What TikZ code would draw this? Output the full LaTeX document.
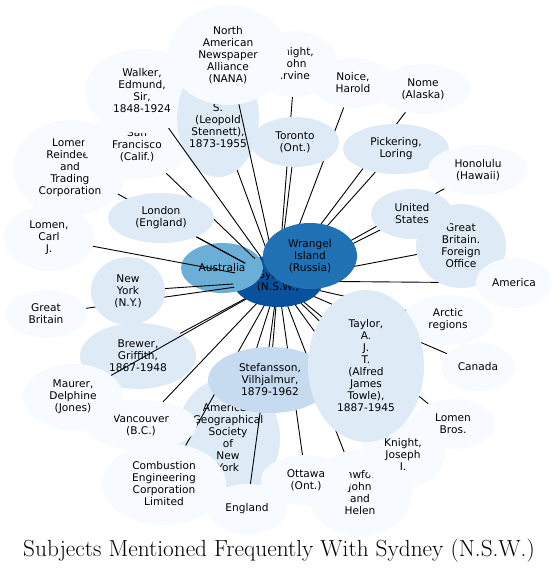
\documentclass[tikz,border=0pt]{standalone}
\usepackage{fontspec}
\newfontfamily\subjfont{DejaVu Sans}
\newfontfamily\titlefont{Latin Modern Roman}
\usetikzlibrary{shapes.geometric}
\definecolor{tone1}{HTML}{F7FBFF}
\definecolor{tone2}{HTML}{DEEBF7}
\definecolor{tone3}{HTML}{C6DBEF}
\definecolor{tone5}{HTML}{6BAED6}
\definecolor{tone7}{HTML}{2171B5}
\definecolor{tone8}{HTML}{08519C}
\pgfdeclarelayer{back}
\pgfdeclarelayer{edges}
\pgfsetlayers{back,edges,main}
\tikzset{
  subj/.style = {ellipse, inner sep=0, outer sep=0, align=center,
    font=\subjfont\fontsize{10.6}{12}\selectfont},
  sz/.style 2 args = {minimum width=2*#1pt, minimum height=2*#2pt},
  pale/.style = {subj, fill=tone1},
  light/.style = {subj, fill=tone2},
  mid/.style = {subj, fill=tone3},
  link/.style = {line width=0.9pt}
}

\begin{document}
\begin{tikzpicture}[x=1pt, y=-1pt]
  \useasboundingbox (0,0) rectangle (558,571);
  % nodes under the links
  \begin{pgfonlayer}{back}
    \node[subj, fill=tone8, sz={45}{26}] (syd) at (278,281) {Sydney\\(N.S.W.)};
    \node[subj, fill=tone5, sz={41}{25}] (aus) at (222,268) {Australia};
    \node[pale, sz={57}{48}] (lomr) at (70,168) {Lomen\\Reindeer\\and\\Trading\\Corporation};
    \node[pale, sz={53}{34}] (sanf) at (137,145) {San\\Francisco\\(Calif.)};
    \node[pale, sz={57}{42}] (walk) at (142,91) {Walker,\\Edmund,\\Sir,\\1848-1924};
    \node[light, sz={40}{59}] (amery) at (218,118) {\mbox{}\\\mbox{}\\S.\\(Leopold\\Stennett),\\1873-1955};
    \node[light, sz={52}{60}] (ags) at (228,438) {American\\Geographical\\Society\\of\\New\\York};
    \node[light, sz={58}{33}] (brew) at (138,356) {Brewer,\\Griffith,\\1867-1948};
  \end{pgfonlayer}
  % nodes over the links
  \node[pale, sz={43}{33}] (kjohn) at (295,64) {Knight,\\John\\Irvine};
  \node[pale, sz={60}{50}] (nana) at (228,55) {North\\American\\Newspaper\\Alliance\\(NANA)};
  \node[pale, sz={40}{25}] (noice) at (353,83) {Noice,\\Harold};
  \node[pale, sz={47}{25}] (nome) at (423,89) {Nome\\(Alaska)};
  \node[light, sz={44}{25}] (toro) at (295,142) {Toronto\\(Ont.)};
  \node[light, sz={53}{25}] (pick) at (396,149) {Pickering,\\Loring};
  \node[pale, sz={50}{25}] (hono) at (478,170) {Honolulu\\(Hawaii)};
  \node[light, sz={45}{42}] (gbfo) at (461,246) {Great\\Britain.\\Foreign\\Office};
  \node[light, sz={41}{25}] (us) at (412,214) {United\\States};
  \node[pale, sz={38}{25}] (amer) at (514,283) {America};
  \node[pale, sz={45}{25}] (arct) at (448,320) {Arctic\\regions};
  \node[pale, sz={37}{24}] (cana) at (478,367) {Canada};
  \node[pale, sz={42}{25}] (lomb) at (453,424) {Lomen\\Bros.};
  \node[pale, sz={52}{43}] (craw) at (360,493) {Crawford,\\John\\and\\Helen};
  \node[pale, sz={42}{34}] (kjos) at (403,454) {Knight,\\Joseph\\I.};
  \node[pale, sz={45}{25}] (otta) at (306,480) {Ottawa\\(Ont.)};
  \node[mid, sz={62}{33}] (stef) at (270,380) {Stefansson,\\Vilhjalmur,\\1879-1962};
  \node[light, sz={58}{76}] (tayl) at (366,366) {Taylor,\\A.\\J.\\T.\\(Alfred\\James\\Towle),\\1887-1945};
  \node[pale, sz={40}{25}] (engl) at (247,509) {England};
  \node[pale, sz={56}{25}] (vanc) at (141,425) {Vancouver\\(B.C.)};
  \node[pale, sz={62}{41}] (comb) at (164,484) {Combustion\\Engineering\\Corporation\\Limited};
  \node[pale, sz={50}{33}] (maur) at (73,397) {Maurer,\\Delphine\\(Jones)};
  \node[pale, sz={41}{24}] (gbr) at (46,314) {Great\\Britain};
  \node[light, sz={37}{34}] (nyk) at (128,291) {New\\York\\(N.Y.)};
  \node[light, sz={53}{25}] (lond) at (161,218) {London\\(England)};
  \node[pale, sz={45}{33}] (lomc) at (49,238) {Lomen,\\Carl\\J.};
  \node[subj, fill=tone7, sz={47}{33}] (wran) at (310,256) {Wrangel\\Island\\(Russia)};
  % links from Sydney
  \begin{pgfonlayer}{edges}
    \foreach \n in {lomr,sanf,walk,kjohn,nana,amery,noice,nome,toro,pick,hono,us,gbfo,amer,
      arct,cana,tayl,lomb,kjos,craw,otta,engl,stef,ags,comb,vanc,maur,brew,gbr,nyk,lond,lomc}
      \draw[link] (syd) -- (\n);
  \end{pgfonlayer}
  \node[anchor=base, inner sep=0, font=\titlefont\fontsize{23.3}{26}\selectfont] (ttl) at (279,556)
    {Subjects Mentioned Frequently With Sydney (N.S.W.)};
\end{tikzpicture}
\end{document}
